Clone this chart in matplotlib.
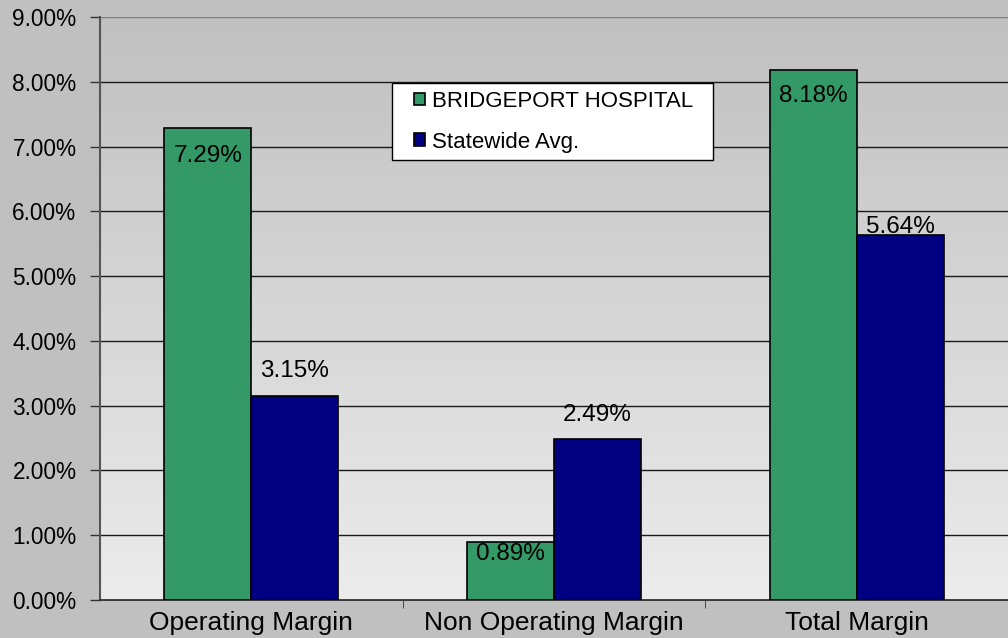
import matplotlib
matplotlib.use("Agg")
import matplotlib.pyplot as plt
import numpy as np
from matplotlib.patches import Patch, Rectangle
from matplotlib.colors import LinearSegmentedColormap

categories = ["Operating Margin", "Non Operating Margin", "Total Margin"]
hospital = [7.29, 0.89, 8.18]
statewide = [3.15, 2.49, 5.64]
series_names = ["BRIDGEPORT HOSPITAL", "Statewide Avg."]
yticks = [0, 1, 2, 3, 4, 5, 6, 7, 8, 9]

plt.rcParams['font.family'] = ['Liberation Sans', 'DejaVu Sans']

W, H = 1008, 638
fig = plt.figure(figsize=(W/100, H/100), dpi=100)
fig.patch.set_facecolor('#c0c0c0')
ax = fig.add_axes([100/W, 38/H, 908/W, 583/H])

grad = np.linspace(0, 1, 256).reshape(-1, 1)
cmap = LinearSegmentedColormap.from_list('g', ['#ececec', '#c0c0c0'])
ax.imshow(grad, extent=[-0.5, 2.5, 0, 9], origin='lower', aspect='auto', cmap=cmap, zorder=0)

x = np.arange(len(categories))
w = 0.287
green = '#339966'
navy = '#000080'
ax.bar(x - w/2, hospital, w, color=green, edgecolor='black', linewidth=1.2, zorder=3)
ax.bar(x + w/2, statewide, w, color=navy, edgecolor='black', linewidth=1.2, zorder=3)

for yv in yticks[1:]:
    ax.axhline(yv, color='#808080' if yv == 9 else '#1a1a1a', linewidth=1, zorder=1)

ax.set_xlim(-0.5, 2.5)
ax.set_ylim(0, 9)
ax.set_yticks(yticks)
ax.set_yticklabels([f"{v:.2f}%" for v in yticks], fontsize=16.3)
ax.set_xticks(x)
ax.set_xticklabels(categories, fontsize=19)
ax.tick_params(axis='x', length=0, pad=8)
ax.tick_params(axis='y', length=7, width=1, color='#333333', pad=10)
ax.set_xticks([0.5, 1.5], minor=True)
ax.tick_params(axis='x', which='minor', length=6, color='#333333')

for s in ['top', 'right']:
    ax.spines[s].set_visible(False)
ax.spines['left'].set_color('#555555')
ax.spines['left'].set_linewidth(1.5)
ax.spines['bottom'].set_color('#222222')
ax.spines['bottom'].set_linewidth(1.2)

green_off = [-28, -12, -26]
blue_off = [25, 24, 8]
for i in range(3):
    ax.annotate(f"{hospital[i]:.2f}%", (x[i] - w/2, hospital[i]), xytext=(0, green_off[i]),
                textcoords='offset pixels', ha='center', va='center', fontsize=17.5, zorder=5)
    ax.annotate(f"{statewide[i]:.2f}%", (x[i] + w/2, statewide[i]), xytext=(0, blue_off[i]),
                textcoords='offset pixels', ha='center', va='center', fontsize=17.5, zorder=5)

box = Rectangle((392/W, 1 - 160/H), (713-392)/W, (160-83)/H, transform=fig.transFigure,
                facecolor='white', edgecolor='black', linewidth=1, zorder=6)
fig.patches.append(box)

handles = [Patch(facecolor=green, edgecolor='black', linewidth=1.2),
           Patch(facecolor=navy, edgecolor='black', linewidth=1.2)]
leg = fig.legend(handles, series_names, loc='upper left', bbox_to_anchor=(414/W, 1 - 91/H),
                 fontsize=16, frameon=False,
                 handlelength=0.5, handleheight=0.5, handletextpad=0.3, borderpad=0,
                 labelspacing=0.88, borderaxespad=0)
leg.set_zorder(7)

fig.savefig('out.png', dpi=100, facecolor=fig.get_facecolor())
